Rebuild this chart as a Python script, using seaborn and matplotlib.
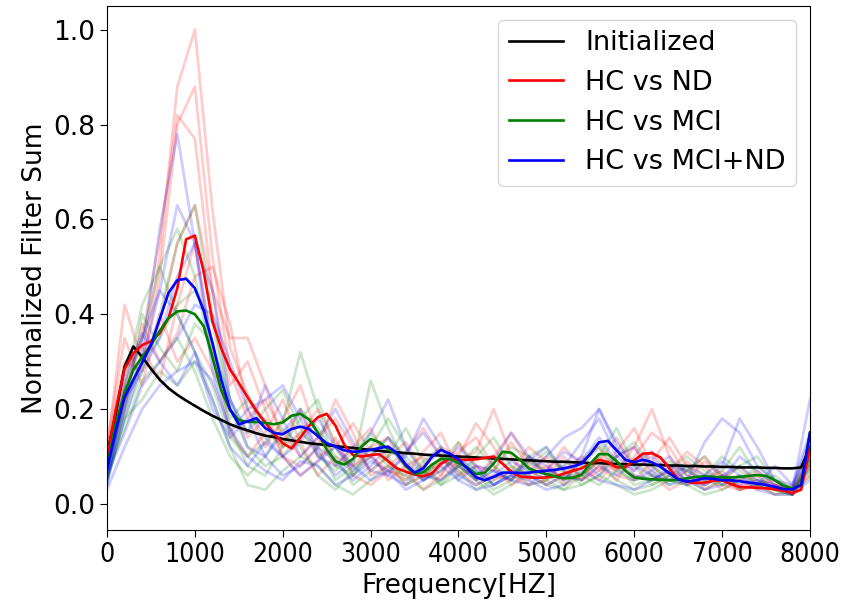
import numpy as np
import pandas as pd
import matplotlib
matplotlib.use("Agg")
import matplotlib.pyplot as plt
import seaborn as sns

# ---------------- data ----------------
freq_main = list(range(0, 8001, 100))
freq_faint = list(range(0, 8001, 200))

initialized = [
    0.105, 0.19, 0.29, 0.332, 0.31, 0.285, 0.262, 0.244, 0.23, 0.218,
    0.207, 0.196, 0.186, 0.177, 0.168, 0.161, 0.155, 0.149, 0.144, 0.141,
    0.137, 0.134, 0.131, 0.128, 0.126, 0.124, 0.122, 0.120, 0.118, 0.116,
    0.114, 0.112, 0.110, 0.109, 0.107, 0.106, 0.104, 0.103, 0.102, 0.101,
    0.100, 0.099, 0.098, 0.097, 0.096, 0.095, 0.094, 0.093, 0.092, 0.091,
    0.090, 0.089, 0.089, 0.088, 0.087, 0.086, 0.086, 0.085, 0.084, 0.084,
    0.083, 0.083, 0.082, 0.082, 0.081, 0.081, 0.080, 0.080, 0.079, 0.079,
    0.078, 0.078, 0.077, 0.077, 0.077, 0.076, 0.076, 0.075, 0.075, 0.077,
    0.12]

hc_nd = [
    0.097, 0.20, 0.285, 0.318, 0.335, 0.343, 0.360, 0.392, 0.455, 0.558,
    0.566, 0.49, 0.385, 0.328, 0.284, 0.255, 0.225, 0.196, 0.172, 0.149,
    0.128, 0.117, 0.14, 0.165, 0.183, 0.19, 0.165, 0.125, 0.103, 0.10,
    0.103, 0.105, 0.09, 0.075, 0.068, 0.062, 0.058, 0.065, 0.085, 0.095,
    0.093, 0.093, 0.094, 0.097, 0.10, 0.085, 0.068, 0.058, 0.056, 0.055,
    0.056, 0.058, 0.064, 0.07, 0.075, 0.085, 0.093, 0.088, 0.077, 0.078,
    0.092, 0.106, 0.107, 0.098, 0.075, 0.052, 0.047, 0.044, 0.045, 0.049,
    0.05, 0.042, 0.036, 0.035, 0.034, 0.033, 0.031, 0.028, 0.023, 0.03,
    0.12]

hc_mci = [
    0.079, 0.17, 0.235, 0.283, 0.31, 0.335, 0.365, 0.392, 0.406, 0.408,
    0.40, 0.375, 0.31, 0.24, 0.198, 0.177, 0.173, 0.173, 0.171, 0.168,
    0.172, 0.186, 0.19, 0.178, 0.15, 0.115, 0.09, 0.083, 0.095, 0.122,
    0.137, 0.13, 0.115, 0.105, 0.08, 0.063, 0.067, 0.083, 0.095, 0.095,
    0.086, 0.077, 0.063, 0.066, 0.085, 0.11, 0.108, 0.093, 0.075, 0.068,
    0.063, 0.058, 0.054, 0.055, 0.062, 0.085, 0.105, 0.105, 0.09, 0.07,
    0.056, 0.053, 0.052, 0.051, 0.05, 0.051, 0.054, 0.057, 0.058, 0.057,
    0.056, 0.056, 0.057, 0.059, 0.061, 0.059, 0.05, 0.038, 0.033, 0.04,
    0.15]

hc_mci_nd = [
    0.072, 0.155, 0.225, 0.262, 0.298, 0.335, 0.39, 0.445, 0.472, 0.475,
    0.455, 0.408, 0.34, 0.262, 0.2, 0.168, 0.174, 0.181, 0.16, 0.15,
    0.147, 0.158, 0.163, 0.158, 0.143, 0.128, 0.121, 0.113, 0.11, 0.111,
    0.114, 0.118, 0.121, 0.107, 0.083, 0.066, 0.075, 0.1, 0.114, 0.106,
    0.094, 0.075, 0.056, 0.05, 0.057, 0.066, 0.066, 0.065, 0.066, 0.068,
    0.07, 0.072, 0.075, 0.079, 0.085, 0.105, 0.13, 0.133, 0.113, 0.093,
    0.088, 0.093, 0.088, 0.078, 0.065, 0.052, 0.047, 0.05, 0.054, 0.053,
    0.05, 0.05, 0.048, 0.045, 0.043, 0.04, 0.036, 0.031, 0.031, 0.04,
    0.15]

# individual runs (faint lines), sampled every 200 Hz
red_runs = [
    [0.10,0.22,0.30,0.52,0.88,1.00,0.62,0.33,0.23,0.17,0.12,0.15,0.20,0.13,0.08,0.10,0.07,0.05,0.08,0.12,0.10,0.17,0.12,0.06,0.04,0.05,0.08,0.06,0.10,0.07,0.12,0.20,0.10,0.04,0.05,0.07,0.03,0.04,0.03,0.02,0.09],
    [0.12,0.30,0.28,0.48,0.80,0.88,0.52,0.28,0.18,0.22,0.15,0.10,0.14,0.18,0.12,0.07,0.10,0.13,0.07,0.05,0.09,0.11,0.20,0.10,0.05,0.08,0.05,0.09,0.12,0.06,0.05,0.09,0.14,0.08,0.03,0.05,0.08,0.04,0.02,0.03,0.07],
    [0.09,0.25,0.35,0.56,0.82,0.77,0.45,0.25,0.30,0.20,0.10,0.08,0.12,0.22,0.15,0.06,0.08,0.11,0.16,0.10,0.06,0.08,0.07,0.13,0.08,0.04,0.06,0.10,0.07,0.11,0.16,0.08,0.05,0.07,0.10,0.05,0.03,0.05,0.04,0.02,0.10],
    [0.11,0.42,0.30,0.38,0.55,0.63,0.45,0.35,0.35,0.25,0.13,0.20,0.10,0.12,0.17,0.11,0.05,0.08,0.10,0.06,0.13,0.08,0.05,0.07,0.12,0.09,0.04,0.06,0.09,0.14,0.07,0.11,0.06,0.09,0.06,0.03,0.05,0.07,0.04,0.03,0.08],
    [0.08,0.20,0.38,0.30,0.36,0.48,0.50,0.38,0.20,0.12,0.18,0.25,0.14,0.08,0.12,0.16,0.09,0.04,0.06,0.09,0.08,0.05,0.10,0.15,0.09,0.06,0.10,0.05,0.08,0.05,0.10,0.15,0.12,0.06,0.04,0.06,0.04,0.06,0.03,0.04,0.10],
    [0.13,0.35,0.25,0.40,0.30,0.35,0.28,0.20,0.14,0.18,0.10,0.06,0.09,0.14,0.06,0.04,0.07,0.06,0.11,0.15,0.07,0.04,0.06,0.05,0.10,0.07,0.12,0.08,0.05,0.09,0.06,0.05,0.07,0.11,0.08,0.04,0.03,0.04,0.05,0.02,0.06],
    [0.10,0.28,0.33,0.26,0.42,0.55,0.32,0.15,0.10,0.15,0.22,0.13,0.06,0.10,0.08,0.12,0.14,0.07,0.03,0.06,0.11,0.14,0.08,0.04,0.06,0.10,0.07,0.05,0.07,0.10,0.12,0.06,0.03,0.05,0.09,0.06,0.05,0.03,0.04,0.03,0.09],
]
green_runs = [
    [0.06,0.18,0.28,0.40,0.55,0.63,0.40,0.22,0.15,0.20,0.24,0.16,0.10,0.07,0.11,0.15,0.10,0.05,0.09,0.12,0.08,0.05,0.07,0.12,0.10,0.06,0.04,0.08,0.12,0.07,0.05,0.06,0.09,0.07,0.05,0.04,0.06,0.05,0.03,0.02,0.10],
    [0.07,0.22,0.35,0.50,0.58,0.48,0.30,0.18,0.22,0.16,0.12,0.18,0.22,0.12,0.06,0.10,0.14,0.10,0.06,0.09,0.13,0.07,0.04,0.06,0.09,0.07,0.05,0.09,0.13,0.08,0.04,0.05,0.07,0.10,0.07,0.04,0.05,0.08,0.05,0.03,0.12],
    [0.05,0.25,0.42,0.50,0.40,0.32,0.25,0.14,0.10,0.13,0.17,0.32,0.20,0.08,0.06,0.12,0.18,0.12,0.07,0.04,0.08,0.12,0.08,0.05,0.08,0.11,0.07,0.04,0.06,0.10,0.13,0.08,0.05,0.04,0.06,0.10,0.07,0.04,0.03,0.02,0.08],
    [0.08,0.20,0.30,0.35,0.42,0.45,0.38,0.20,0.12,0.08,0.10,0.15,0.12,0.05,0.08,0.26,0.16,0.08,0.05,0.07,0.10,0.06,0.03,0.05,0.10,0.12,0.06,0.05,0.10,0.16,0.08,0.04,0.06,0.08,0.05,0.07,0.12,0.06,0.03,0.02,0.09],
    [0.04,0.20,0.40,0.33,0.28,0.38,0.34,0.16,0.08,0.06,0.12,0.20,0.16,0.10,0.04,0.07,0.10,0.16,0.09,0.04,0.06,0.10,0.14,0.08,0.04,0.05,0.09,0.06,0.04,0.07,0.09,0.06,0.04,0.07,0.10,0.06,0.03,0.04,0.06,0.03,0.07],
    [0.06,0.16,0.26,0.30,0.35,0.28,0.18,0.10,0.06,0.10,0.16,0.12,0.06,0.03,0.07,0.12,0.08,0.04,0.06,0.10,0.07,0.03,0.05,0.08,0.06,0.04,0.03,0.06,0.09,0.05,0.03,0.04,0.06,0.05,0.03,0.05,0.08,0.10,0.05,0.03,0.09],
    [0.05,0.18,0.22,0.28,0.25,0.30,0.22,0.12,0.04,0.03,0.07,0.10,0.08,0.04,0.02,0.05,0.08,0.06,0.03,0.05,0.08,0.05,0.02,0.04,0.07,0.05,0.03,0.04,0.06,0.04,0.02,0.03,0.05,0.04,0.02,0.03,0.05,0.04,0.02,0.02,0.06],
]
blue_runs = [
    [0.06,0.20,0.32,0.58,0.78,0.55,0.28,0.15,0.20,0.14,0.10,0.13,0.18,0.12,0.07,0.10,0.14,0.09,0.05,0.08,0.12,0.08,0.04,0.06,0.10,0.08,0.05,0.09,0.14,0.09,0.05,0.07,0.10,0.06,0.04,0.06,0.08,0.05,0.03,0.03,0.14],
    [0.05,0.18,0.30,0.45,0.63,0.55,0.33,0.22,0.15,0.25,0.18,0.10,0.14,0.20,0.13,0.07,0.06,0.11,0.15,0.10,0.05,0.08,0.07,0.05,0.09,0.12,0.07,0.10,0.20,0.12,0.06,0.05,0.08,0.07,0.05,0.08,0.18,0.12,0.05,0.03,0.22],
    [0.07,0.22,0.28,0.35,0.48,0.55,0.45,0.22,0.12,0.10,0.15,0.20,0.11,0.06,0.09,0.15,0.22,0.12,0.06,0.05,0.08,0.06,0.09,0.15,0.10,0.06,0.08,0.13,0.18,0.10,0.07,0.10,0.06,0.04,0.06,0.09,0.06,0.04,0.08,0.04,0.12],
    [0.04,0.24,0.35,0.45,0.40,0.32,0.22,0.12,0.08,0.13,0.10,0.06,0.09,0.12,0.08,0.05,0.07,0.10,0.18,0.12,0.06,0.04,0.06,0.09,0.07,0.10,0.14,0.16,0.20,0.13,0.08,0.06,0.05,0.08,0.06,0.05,0.10,0.07,0.04,0.03,0.10],
    [0.06,0.15,0.25,0.30,0.35,0.42,0.40,0.30,0.20,0.22,0.25,0.18,0.10,0.08,0.12,0.10,0.06,0.04,0.08,0.11,0.09,0.05,0.07,0.05,0.04,0.07,0.11,0.09,0.06,0.10,0.12,0.07,0.04,0.05,0.13,0.18,0.15,0.08,0.05,0.04,0.15],
    [0.08,0.26,0.36,0.30,0.25,0.32,0.20,0.14,0.18,0.10,0.06,0.08,0.12,0.09,0.05,0.08,0.12,0.08,0.05,0.07,0.10,0.07,0.04,0.07,0.06,0.04,0.06,0.05,0.08,0.06,0.09,0.11,0.08,0.05,0.04,0.06,0.04,0.05,0.04,0.02,0.08],
    [0.03,0.12,0.20,0.25,0.28,0.30,0.26,0.16,0.10,0.07,0.05,0.09,0.08,0.04,0.06,0.09,0.07,0.03,0.05,0.08,0.05,0.03,0.04,0.06,0.05,0.03,0.04,0.07,0.05,0.04,0.03,0.05,0.07,0.05,0.03,0.04,0.06,0.03,0.02,0.02,0.05],
]

x_ticks = [0, 1000, 2000, 3000, 4000, 5000, 6000, 7000, 8000]
y_ticks = [0.0, 0.2, 0.4, 0.6, 0.8, 1.0]
labels = ["Initialized", "HC vs ND", "HC vs MCI", "HC vs MCI+ND"]

# ---------------- plot ----------------
plt.rcParams["font.family"] = ["DejaVu Sans"]
fig = plt.figure(figsize=(8.46, 6.06), dpi=100)
ax = fig.add_axes([0.1265, 0.1254, 0.8309, 0.8646])

for runs, col in [(red_runs, "red"), (green_runs, "green"), (blue_runs, "blue")]:
    for vals in runs:
        sns.lineplot(x=freq_faint, y=vals, color=col, alpha=0.2, linewidth=2.0,
                     ax=ax, legend=False)

for vals, col, lab in zip([initialized, hc_nd, hc_mci, hc_mci_nd],
                          ["black", "red", "green", "blue"], labels):
    sns.lineplot(x=freq_main, y=vals, color=col, linewidth=1.9, label=lab, ax=ax)

ax.set_xlim(0, 8000)
ax.set_ylim(-0.055, 1.05)
ax.set_xticks(x_ticks)
ax.set_yticks(y_ticks)
ax.tick_params(labelsize=19, length=5)
for t in ax.get_xticklabels():
    t.set_fontstretch("condensed")
ax.set_xlabel("Frequency[HZ]", fontsize=19)
ax.set_ylabel("Normalized Filter Sum", fontsize=19)
ax.legend(loc="upper right", fontsize=19.5)

fig.savefig("out.png", dpi=100)
